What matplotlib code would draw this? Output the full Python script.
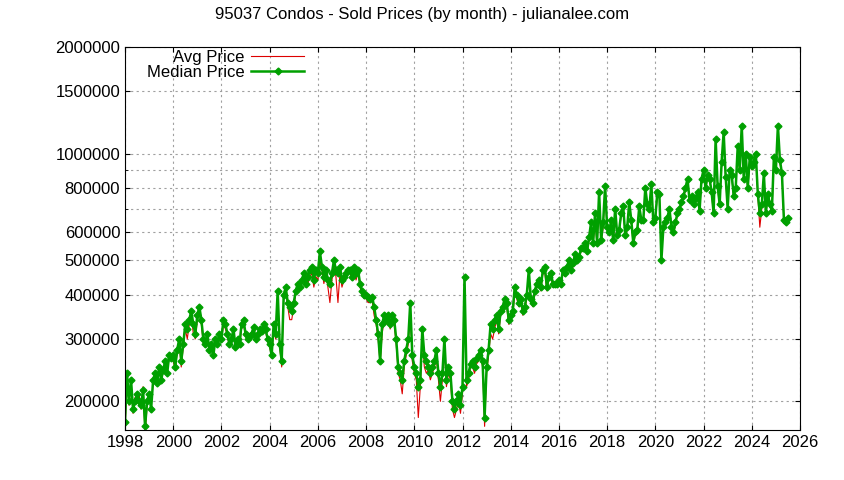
import matplotlib
matplotlib.use("Agg")
import matplotlib.pyplot as plt
from matplotlib.ticker import FixedLocator, NullFormatter
import numpy as np

plt.rcParams['font.family'] = ['Liberation Sans', 'DejaVu Sans']

start_year = 1998
median_k = [
175,240,200,230,190,200,210,200,195,215,170,200,
210,190,230,240,225,250,230,245,260,240,270,265,
270,250,280,300,260,290,330,320,340,360,330,310,
350,370,340,300,290,310,280,290,270,300,290,310,
300,340,330,310,290,300,320,285,300,290,330,340,
310,300,305,310,325,300,310,320,315,330,320,300,
290,270,330,310,410,290,260,400,420,380,370,360,
380,410,430,420,440,460,430,450,470,480,440,470,
460,530,480,450,470,440,430,460,500,470,460,480,
440,450,460,470,470,450,480,460,470,430,410,400,
400,395,390,395,370,340,310,260,330,350,340,350,
330,350,340,300,250,240,230,260,280,300,380,270,
250,240,220,230,320,270,260,250,240,250,260,280,
240,220,240,300,230,250,240,200,190,200,210,195,
220,450,230,240,255,260,250,265,270,280,260,180,
250,280,330,320,340,350,320,360,370,390,380,340,
350,360,420,400,380,390,360,370,400,470,390,380,
410,430,440,420,470,480,420,450,460,430,430,430,
440,430,470,460,480,500,470,490,520,500,510,540,
540,560,530,580,640,560,680,560,780,570,640,810,
620,600,650,570,700,590,610,680,710,590,620,730,
650,560,600,610,710,650,650,800,720,700,820,640,
660,780,770,500,620,640,660,700,620,600,640,680,
700,730,760,800,850,740,760,720,750,780,690,850,
900,800,870,850,780,680,1100,810,720,950,1150,860,
700,900,870,760,800,1050,900,1200,850,1000,800,980,
920,950,1000,770,680,720,880,680,770,720,690,980,
900,1200,960,880,650,640,660]
avg_k = [
165,230,195,225,185,205,205,210,190,220,160,195,
205,195,225,235,230,245,235,240,250,245,265,260,
260,245,275,290,250,285,320,300,330,350,310,300,
340,360,330,290,285,300,285,280,275,295,285,300,
295,330,320,305,285,295,310,280,295,285,320,330,
305,300,300,305,320,295,305,315,310,325,315,295,
285,265,320,300,400,285,250,390,410,370,340,340,
370,400,420,410,430,440,420,430,450,460,420,450,
440,500,470,430,460,420,380,440,480,450,380,460,
420,440,450,460,460,440,470,440,460,420,400,390,
390,380,380,385,350,330,300,255,310,340,330,340,
320,340,330,290,240,230,210,250,270,290,360,260,
240,230,180,220,300,250,240,245,230,240,250,265,
230,200,230,280,220,240,230,190,180,190,200,185,
210,430,220,230,250,250,240,255,260,270,250,170,
240,270,310,300,320,340,310,350,360,380,370,330,
340,350,400,390,370,380,350,360,390,450,380,370,
400,420,430,410,460,460,410,440,450,420,420,420,
430,420,460,450,470,490,460,480,510,490,500,530,
530,550,520,570,620,550,660,550,760,560,620,790,
610,590,640,560,680,580,600,670,700,580,610,720,
640,550,590,600,700,640,640,780,710,690,800,630,
650,760,760,520,610,630,650,690,610,590,630,670,
690,720,750,790,830,730,750,710,740,770,680,840,
880,790,860,840,770,670,1080,800,710,930,1120,850,
690,880,860,750,790,1030,880,1170,840,980,790,960,
900,930,980,760,620,700,860,670,760,710,680,960,
880,1170,940,870,640,630,650]

n = len(median_k)
t = start_year + np.arange(n) / 12.0
med = np.array(median_k) * 1000
avg = np.array(avg_k) * 1000

fig = plt.figure(figsize=(8.44, 4.80), dpi=100)
ax = fig.add_axes([125/844, 50/480, 675/844, 383/480])
ax.set_yscale('log')
ax.plot(t, avg, color='#dd0000', lw=0.8, label='Avg Price')
ax.plot(t, med, color='#00a000', lw=1.8, marker='D', ms=3.5, label='Median Price')
ax.set_xlim(1998, 2026)
ax.set_ylim(166000, 2000000)
yt = [200000, 300000, 400000, 500000, 600000, 800000, 1000000, 1500000, 2000000]
ax.yaxis.set_major_locator(FixedLocator(yt))
ax.yaxis.set_minor_locator(FixedLocator([700000, 900000]))
ax.yaxis.set_minor_formatter(NullFormatter())
ax.set_yticklabels([str(v) for v in yt])
ax.set_xticks(range(1998, 2027, 2))
ax.grid(True, which='both', color='#a0a0a0', ls=(0, (2, 3)), lw=0.8)
ax.tick_params(which='both', direction='in', labelsize=12, top=True, right=True)
for s in ax.spines.values():
    s.set_linewidth(0.8)
fig.suptitle('95037 Condos - Sold Prices (by month) - julianalee.com', fontsize=12, y=0.985)
ax.legend(loc='upper left', frameon=False, fontsize=12, markerfirst=False,
          handlelength=3.2, borderaxespad=0.1, handletextpad=0.4, labelspacing=0.0,
          bbox_to_anchor=(0.02, 1.015))
fig.savefig('out.png', dpi=100)
